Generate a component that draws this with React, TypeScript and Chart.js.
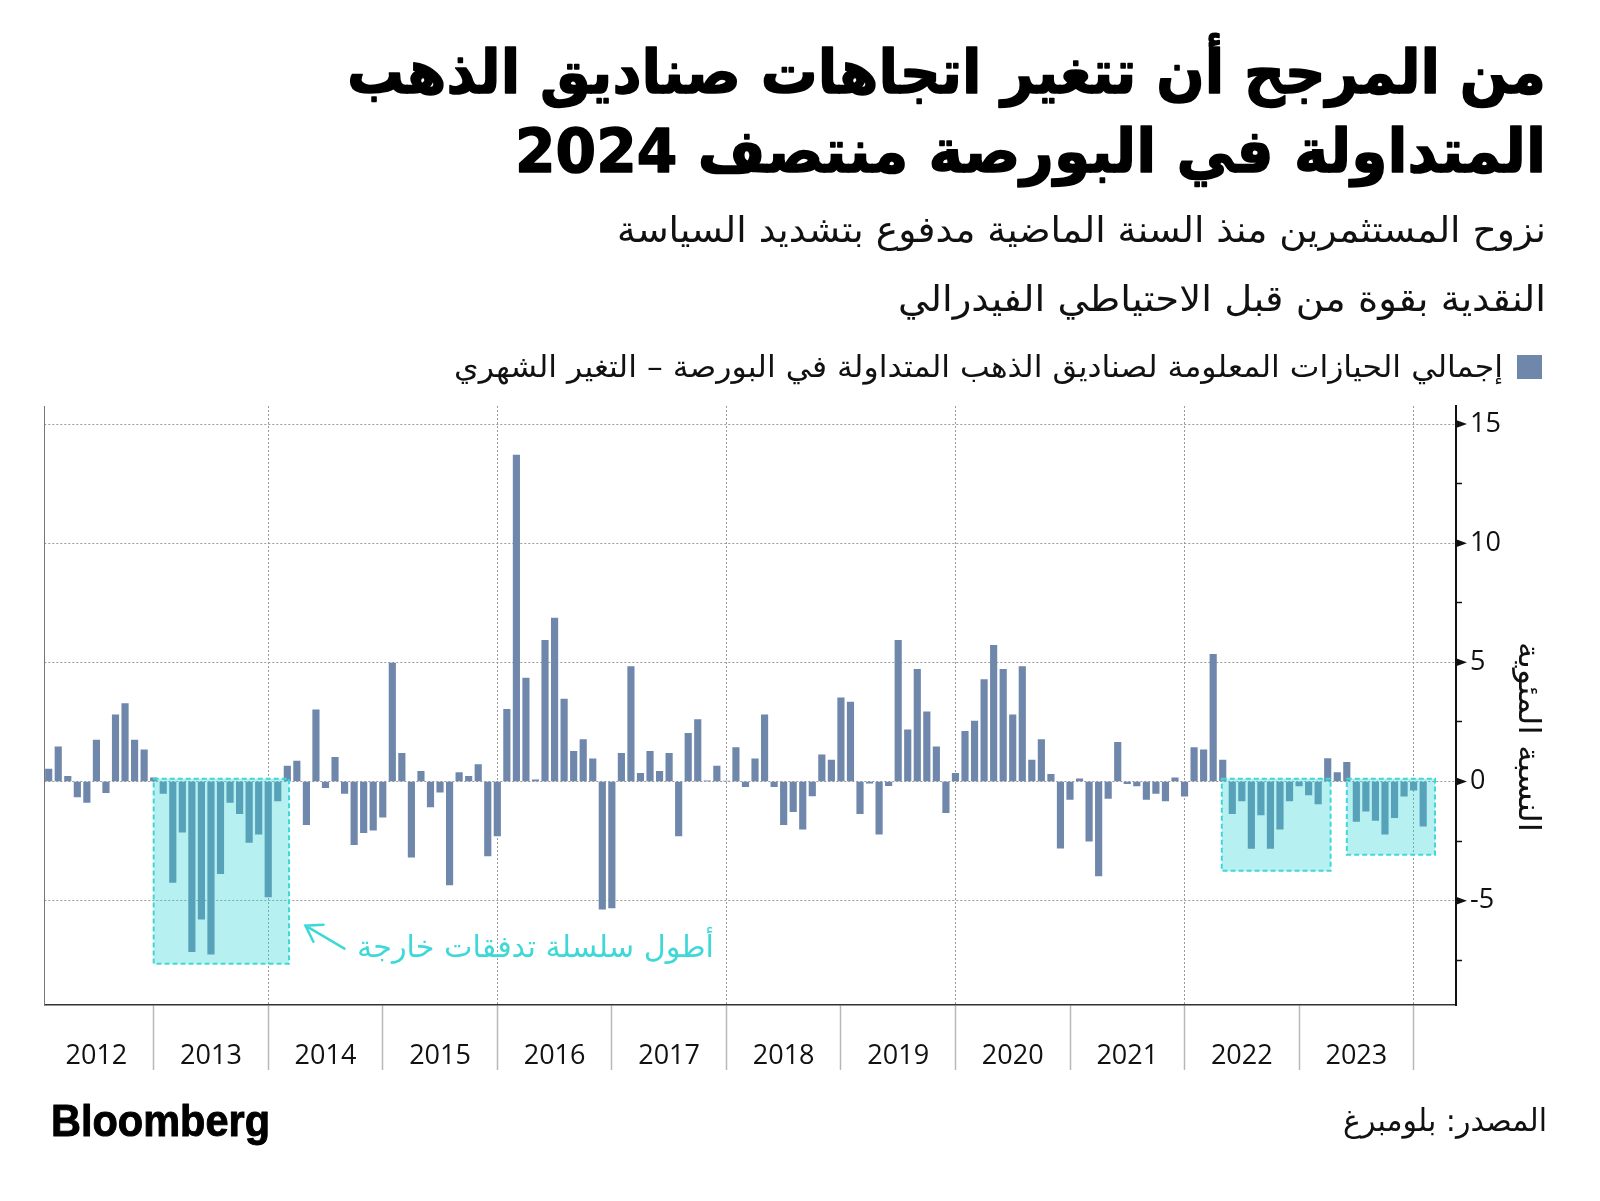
import React, { useEffect, useRef } from 'react';
import { Chart, registerables } from 'chart.js';

Chart.register(...registerables);

// ---------- data ----------
const yearLabels = ['2012', '2013', '2014', '2015', '2016', '2017', '2018', '2019', '2020', '2021', '2022', '2023'];

// monthly % change of total known gold ETF holdings (month-end), Jan 2012 .. Jan 2024
const chg2012 = [0.52, 1.46, 0.22, -0.65, -0.88, 1.74, -0.47, 2.8, 3.27, 1.74, 1.33, 0.15];
const chg2013 = [-0.5, -4.24, -2.13, -7.14, -5.78, -7.25, -3.87, -0.88, -1.35, -2.56, -2.21, -4.84];
const chg2014 = [-0.82, 0.65, 0.86, -1.81, 3.01, -0.26, 1.01, -0.5, -2.65, -2.15, -2.04, -1.5];
const chg2015 = [4.97, 1.18, -3.18, 0.43, -1.07, -0.45, -4.34, 0.37, 0.22, 0.71, -3.12, -2.28];
const chg2016 = [3.03, 13.7, 4.34, 0.07, 5.93, 6.86, 3.46, 1.27, 1.76, 0.95, -5.36, -5.31];
const chg2017 = [1.18, 4.82, 0.34, 1.27, 0.43, 1.18, -2.28, 2.02, 2.6, 0.03, 0.65, 0.02];
const chg2018 = [1.42, -0.22, 0.95, 2.8, -0.22, -1.81, -1.27, -2.0, -0.6, 1.12, 0.9, 3.51];
const chg2019 = [3.33, -1.35, -0.07, -2.21, -0.17, 5.93, 2.17, 4.71, 2.92, 1.46, -1.31, 0.34];
const chg2020 = [2.11, 2.54, 4.28, 5.72, 4.71, 2.8, 4.82, 0.9, 1.76, 0.3, -2.8, -0.75];
const chg2021 = [0.11, -2.5, -3.96, -0.71, 1.64, -0.09, -0.19, -0.75, -0.5, -0.82, 0.15, -0.62];
const chg2022 = [1.42, 1.33, 5.34, 0.9, -1.35, -0.82, -2.81, -1.4, -2.81, -2.0, -0.82, -0.19];
const chg2023 = [-0.56, -0.94, 0.96, 0.37, 0.81, -1.67, -1.24, -1.63, -2.21, -1.52, -0.62, -0.36];
const chg2024 = [-1.87];

const monthlyChange = [
  ...chg2012, ...chg2013, ...chg2014, ...chg2015, ...chg2016, ...chg2017,
  ...chg2018, ...chg2019, ...chg2020, ...chg2021, ...chg2022, ...chg2023, ...chg2024,
];

const yMajorTicks = [15, 10, 5, 0, -5];
const yMinorTicks = [12.5, 7.5, 2.5, -2.5, -7.5];

// outflow-streak highlight boxes, in axis units (months since Jan 2012 / percent)
const streakFrom = [12.0, 123.9, 137.0];
const streakTo = [26.18, 135.3, 146.24];
const streakLow = [-7.65, -3.75, -3.07];

// ---------- text ----------
const titleLines = ['من المرجح أن تتغير اتجاهات صناديق الذهب', 'المتداولة في البورصة منتصف 2024'];
const subtitleLines = ['نزوح المستثمرين منذ السنة الماضية مدفوع بتشديد السياسة', 'النقدية بقوة من قبل الاحتياطي الفيدرالي'];
const legendLabel = 'إجمالي الحيازات المعلومة لصناديق الذهب المتداولة في البورصة – التغير الشهري';
const yTitle = 'النسبة المئوية';
const annotationText = 'أطول سلسلة تدفقات خارجة';
const sourceText = 'المصدر: بلومبرغ';
const logoText = 'Bloomberg';

const BAR = '#6e87ab';
const CYAN = '#3fd8d8';
const AR_FONT = '"DejaVu Sans", sans-serif';
const NUM_FONT = '"Open Sans", sans-serif';

function fitText(
  ctx: CanvasRenderingContext2D,
  text: string,
  anchorX: number,
  baseline: number,
  width: number,
  font: string,
  color: string,
  rtl: boolean,
  stroke = 0,
) {
  ctx.save();
  ctx.font = font;
  ctx.direction = rtl ? 'rtl' : 'ltr';
  ctx.textAlign = rtl ? 'right' : 'left';
  ctx.textBaseline = 'alphabetic';
  const w = ctx.measureText(text).width;
  ctx.translate(anchorX, baseline);
  ctx.scale(width / w, 1);
  ctx.fillStyle = color;
  ctx.fillText(text, 0, 0);
  if (stroke > 0) {
    ctx.strokeStyle = color;
    ctx.lineWidth = stroke;
    ctx.lineJoin = 'round';
    ctx.strokeText(text, 0, 0);
  }
  ctx.restore();
}

const decorPlugin = {
  id: 'decor',
  afterDatasetsDraw(chart: any) {
    const { ctx } = chart;
    const x = chart.scales.x;
    const y = chart.scales.y;
    ctx.save();
    for (let i = 0; i < streakFrom.length; i++) {
      const l = x.getPixelForValue(streakFrom[i]);
      const r = x.getPixelForValue(streakTo[i]);
      const t = y.getPixelForValue(0.12);
      const b = y.getPixelForValue(streakLow[i]);
      ctx.fillStyle = 'rgba(45, 212, 215, 0.34)';
      ctx.fillRect(l, t, r - l, b - t);
      ctx.setLineDash([5, 3]);
      ctx.lineWidth = 2;
      ctx.strokeStyle = CYAN;
      ctx.strokeRect(l, t, r - l, b - t);
    }
    ctx.setLineDash([]);
    // arrow
    const tipX = x.getPixelForValue(27.9);
    const tipY = y.getPixelForValue(-6.05);
    const tailX = tipX + 39;
    const tailY = tipY + 23;
    const ang = Math.atan2(tailY - tipY, tailX - tipX);
    ctx.strokeStyle = CYAN;
    ctx.lineWidth = 2.5;
    ctx.lineCap = 'round';
    ctx.beginPath();
    ctx.moveTo(tailX, tailY);
    ctx.lineTo(tipX, tipY);
    ctx.moveTo(tipX + 18 * Math.cos(ang - 0.58), tipY + 18 * Math.sin(ang - 0.58));
    ctx.lineTo(tipX, tipY);
    ctx.lineTo(tipX + 18 * Math.cos(ang + 0.58), tipY + 18 * Math.sin(ang + 0.58));
    ctx.stroke();
    ctx.restore();
    // annotation text
    fitText(ctx, annotationText, x.getPixelForValue(70.7), y.getPixelForValue(-7.37), 357, `30px ${AR_FONT}`, CYAN, true);
  },
  afterDraw(chart: any) {
    const { ctx } = chart;
    const y = chart.scales.y;
    // arrow-head major ticks on the value axis
    ctx.save();
    ctx.fillStyle = '#111';
    const ax = y.left;
    for (const v of yMajorTicks) {
      const py = y.getPixelForValue(v);
      ctx.beginPath();
      ctx.moveTo(ax, py - 4);
      ctx.lineTo(ax + 11, py);
      ctx.lineTo(ax, py + 4);
      ctx.closePath();
      ctx.fill();
    }
    ctx.restore();
    // y-axis title, rotated clockwise
    ctx.save();
    ctx.translate(1527, 737);
    ctx.rotate(Math.PI / 2);
    ctx.font = `30px ${AR_FONT}`;
    ctx.direction = 'rtl';
    ctx.textAlign = 'center';
    ctx.textBaseline = 'middle';
    const tw = ctx.measureText(yTitle).width;
    ctx.scale(190 / tw, 1);
    ctx.fillStyle = '#111';
    ctx.fillText(yTitle, 0, 0);
    ctx.restore();
    // header
    fitText(ctx, titleLines[0], 1546, 93, 1199, `bold 60px ${AR_FONT}`, '#000', true, 1.5);
    fitText(ctx, titleLines[1], 1546, 172, 1031, `bold 60px ${AR_FONT}`, '#000', true, 1.5);
    fitText(ctx, subtitleLines[0], 1546, 242, 929, `36px ${AR_FONT}`, '#111', true);
    fitText(ctx, subtitleLines[1], 1546, 311, 648, `36px ${AR_FONT}`, '#111', true);
    // legend
    ctx.save();
    ctx.fillStyle = BAR;
    ctx.fillRect(1517, 355, 25, 24);
    ctx.restore();
    fitText(ctx, legendLabel, 1503, 377, 1049, `30px ${AR_FONT}`, '#111', true);
    // footer
    fitText(ctx, logoText, 51, 1136, 219, `bold 45px "Liberation Sans", Arial, sans-serif`, '#000', false, 1);
    fitText(ctx, sourceText, 1547, 1131, 204, `31px ${AR_FONT}`, '#111', true);
  },
};

export default function App() {
  const canvasRef = useRef<HTMLCanvasElement | null>(null);

  useEffect(() => {
    const canvas = canvasRef.current;
    if (!canvas) return;
    const points = monthlyChange.map((v, i) => ({ x: i + 1, y: v }));
    const transparent = 'rgba(0,0,0,0)';
    const chart = new Chart(canvas, {
      type: 'bar',
      data: {
        datasets: [
          {
            label: legendLabel,
            data: points as any,
            backgroundColor: BAR,
            borderWidth: 0,
            barThickness: 6.5,
          },
        ],
      },
      options: {
        responsive: false,
        animation: false,
        devicePixelRatio: 1,
        layout: { autoPadding: false, padding: { left: 44.3, right: 0, top: 406, bottom: 96 } },
        plugins: { legend: { display: false }, tooltip: { enabled: false }, title: { display: false } },
        scales: {
          x: {
            type: 'linear',
            position: 'bottom',
            offset: false,
            min: 0.54,
            max: 148.44,
            afterBuildTicks: (scale: any) => {
              const t: any[] = [];
              yearLabels.forEach((_, i) => {
                t.push({ value: 12 * i + 6 });
                t.push({ value: 12 * (i + 1) });
              });
              scale.ticks = t;
            },
            afterFit: (scale: any) => {
              scale.height = 100;
            },
            ticks: {
              autoSkip: false,
              maxRotation: 0,
              minRotation: 0,
              padding: -30,
              color: '#111',
              font: { family: NUM_FONT, size: 27 },
              callback: (value: any) => (value % 12 === 6 ? yearLabels[(value - 6) / 12] : ''),
            },
            grid: {
              offset: false,
              drawOnChartArea: true,
              drawTicks: true,
              tickLength: 65,
              lineWidth: 1,
              color: (c: any) => (c.tick && c.tick.value % 24 === 0 ? '#9a9a9a' : transparent),
              tickColor: (c: any) => (c.tick && c.tick.value % 12 === 0 ? '#b8b8b8' : transparent),
              tickBorderDash: [],
              tickWidth: 1.5,
            },
            border: { display: true, color: '#333', width: 1.5, dash: [2, 2] },
          } as any,
          y: {
            type: 'linear',
            position: 'right',
            min: -9.38,
            max: 15.76,
            afterBuildTicks: (scale: any) => {
              scale.ticks = [...yMajorTicks, ...yMinorTicks].sort((a, b) => a - b).map((v) => ({ value: v }));
            },
            afterFit: (scale: any) => {
              scale.width = 144;
            },
            ticks: {
              padding: 8,
              color: '#111',
              font: { family: NUM_FONT, size: 27 },
              callback: (value: any) => (yMajorTicks.includes(value) ? String(value) : ''),
            },
            grid: {
              drawOnChartArea: true,
              drawTicks: true,
              tickLength: 6,
              lineWidth: 1,
              color: (c: any) => (c.tick && yMajorTicks.includes(c.tick.value) ? '#9a9a9a' : transparent),
              tickColor: '#111',
              tickBorderDash: [],
              tickWidth: 1.5,
            },
            border: { display: true, color: '#111', width: 2, dash: [2, 2] },
          } as any,
          yl: {
            type: 'linear',
            position: 'left',
            afterFit: (scale: any) => {
              scale.width = 0;
            },
            ticks: { display: false },
            grid: { display: true, drawOnChartArea: false, drawTicks: false },
            border: { display: true, color: '#777', width: 1 },
          } as any,
        },
      },
      plugins: [decorPlugin],
    });
    return () => chart.destroy();
  }, []);

  return (
    <div style={{ position: 'absolute', left: 0, top: 0, width: 1600, height: 1201, background: '#fff' }}>
      <canvas ref={canvasRef} width={1600} height={1201} style={{ display: 'block' }} />
    </div>
  );
}
